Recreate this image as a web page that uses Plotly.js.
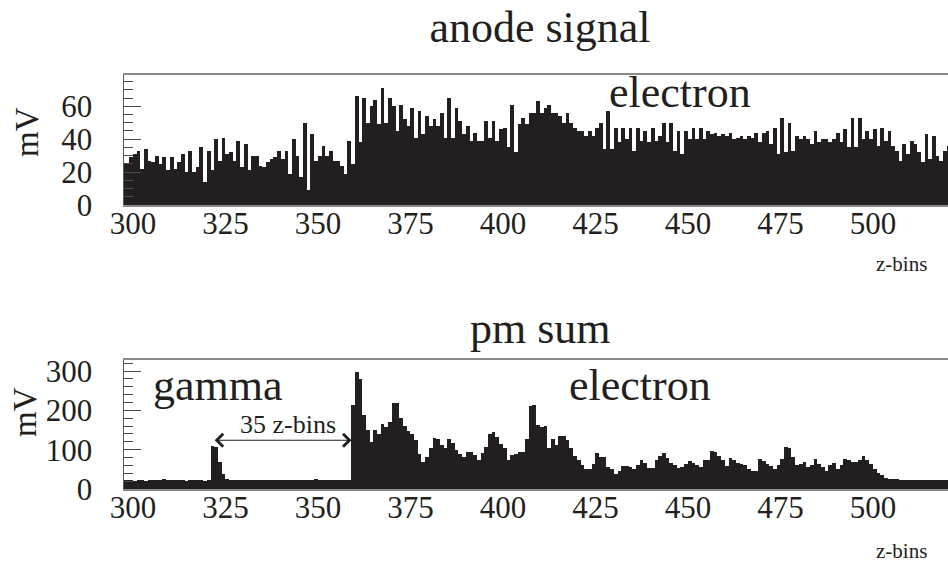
<!DOCTYPE html>
<html>
<head>
<meta charset="utf-8">
<script src="https://cdn.plot.ly/plotly-3.0.1.min.js"></script>
<style>
  html, body { margin: 0; padding: 0; background: #ffffff; }
  #chart { width: 948px; height: 562px; }
</style>
</head>
<body>
<div id="chart"></div>
<script>
// First z-bin shown in both histograms; every bin is one z-bin wide.
const firstBin = 297;

// Anode signal per z-bin (mV), bins 297 ... 520
const anodeMV = [
  25, 25, 29, 31, 33, 22, 34, 27, 26, 30,
  25, 29, 21, 29, 22, 26, 31, 20, 33, 20,
  23, 35, 14, 33, 21, 40, 27, 41, 31, 32,
  27, 39, 23, 37, 21, 30, 30, 24, 23, 26,
  28, 29, 33, 28, 33, 19, 40, 30, 17, 50,
   9, 43, 27, 30, 36, 30, 33, 27, 27, 24,
  19, 39, 25, 66, 38, 65, 50, 60, 64, 49,
  71, 50, 65, 60, 45, 61, 52, 48, 59, 41,
  57, 43, 54, 48, 52, 48, 56, 41, 65, 41,
  59, 51, 43, 48, 39, 44, 39, 39, 51, 41,
  51, 39, 46, 47, 35, 61, 32, 49, 53, 49,
  56, 56, 63, 56, 59, 61, 56, 56, 54, 50,
  56, 50, 47, 45, 45, 42, 45, 42, 47, 50,
  34, 57, 34, 47, 38, 47, 40, 47, 33, 47,
  39, 45, 38, 47, 39, 42, 50, 38, 50, 33,
  45, 31, 45, 40, 47, 40, 47, 40, 45, 43,
  44, 42, 43, 42, 44, 40, 41, 42, 40, 42,
  41, 44, 38, 44, 45, 37, 47, 31, 53, 32,
  50, 33, 42, 40, 42, 40, 37, 45, 38, 40,
  40, 38, 40, 44, 38, 46, 35, 53, 35, 53,
  40, 45, 40, 46, 36, 47, 39, 45, 36, 33,
  27, 37, 31, 39, 37, 32, 26, 43, 28, 42,
  30, 27, 33, 36
];

// Photomultiplier sum per z-bin (mV), bins 297 ... 520
const pmSumMV = [
   22,  22,  22,  21,  22,  22,  21,  22,  22,  22,
   23,  25,  24,  22,  22,  22,  22,  21,  22,  22,
   22,  22,  21,  22, 110, 106,  69,  37,  25,  22,
   22,  23,  22,  22,  22,  22,  23,  23,  22,  22,
   22,  22,  22,  22,  22,  22,  22,  22,  22,  22,
   22,  23,  26,  22,  22,  22,  22,  22,  22,  22,
   23,  24, 214, 297, 280, 188, 150, 120, 150, 141,
  165, 157, 170, 218, 218, 180, 160, 147, 141, 124,
   90,  69,  82, 103, 129, 126, 112, 103, 126, 116,
  100,  90,  82,  94,  94,  86,  73,  92, 107, 141,
  146, 131, 114, 103,  75,  86,  90,  94,  94, 126,
  212, 214, 163, 157, 160, 103, 126, 112, 134, 134,
  124, 103,  83,  73,  60,  51,  50,  64,  92,  82,
   82,  56,  51,  37,  47,  58,  58,  56,  51,  60,
   75,  66,  54,  54,  73,  85,  92,  80,  66,  60,
   53,  55,  64,  71,  66,  60,  56,  75,  75,  97,
   94,  83,  73,  58,  80,  73,  66,  64,  60,  51,
   46,  46,  77,  71,  64,  58,  51,  60,  77, 106,
  103,  82,  60,  63,  69,  56,  60,  77,  64,  56,
   47,  60,  66,  51,  60,  77,  75,  69,  69,  73,
   83,  75,  64,  51,  41,  35,  29,  26,  26,  25,
   24,  24,  23,  22,  22,  22,  22,  22,  22,  22,
   22,  22,  22,  22
];

// Tick labels
const zTicks = [300, 325, 350, 375, 400, 425, 450, 475, 500];
const anodeTicks = [0, 20, 40, 60];
const pmTicks = [0, 100, 200, 300];

// Bin lower edges
const zBins = anodeMV.map((_, i) => firstBin + i);

const INK = '#231f20';
const SERIF = 'Liberation Serif, Times New Roman, serif';
const TICK_SIZE = 31;
const BIG_SIZE = 44;

const barStyle = {
  type: 'bar',
  x: zBins,
  offset: 0,
  width: 1,
  marker: { color: INK, line: { width: 0 } },
  hoverinfo: 'skip',
  showlegend: false
};

const traces = [
  Object.assign({}, barStyle, { y: anodeMV, xaxis: 'x', yaxis: 'y', name: 'anode signal' }),
  Object.assign({}, barStyle, { y: pmSumMV, xaxis: 'x2', yaxis: 'y2', name: 'pm sum' })
];

function zAxis(anchor) {
  return {
    anchor: anchor,
    domain: [0, 1],
    range: [297.6, 520.3],
    tickmode: 'array',
    tickvals: zTicks,
    ticktext: zTicks.map(String),
    ticks: '',
    ticklen: 0,
    showgrid: false,
    zeroline: false,
    showline: true,
    mirror: true,
    linecolor: '#8a8a8a',
    linewidth: 2,
    tickfont: { family: SERIF, size: TICK_SIZE, color: INK },
    ticklabelstandoff: -10
  };
}

function mvAxis(anchor, domain, range, ticks, minorStep) {
  return {
    anchor: anchor,
    domain: domain,
    range: range,
    tickmode: 'array',
    tickvals: ticks,
    ticktext: ticks.map(String),
    ticks: 'inside',
    ticklen: 17,
    tickwidth: 1,
    tickcolor: '#4a4a4a',
    minor: { dtick: minorStep, ticks: 'inside', ticklen: 9, tickwidth: 1, tickcolor: '#4a4a4a', showgrid: false },
    showgrid: false,
    zeroline: false,
    showline: true,
    linecolor: '#5a5a5a',
    linewidth: 1.5,
    tickfont: { family: SERIF, size: TICK_SIZE, color: INK },
    ticklabelstandoff: 24
  };
}

function label(text, xPx, yPx, size, extra) {
  return Object.assign({
    text: text, xref: 'paper', yref: 'paper',
    x: (xPx - 124) / 824, y: 1 - yPx / 562,
    xanchor: 'center', yanchor: 'middle', showarrow: false,
    font: { family: SERIF, size: size, color: INK }
  }, extra || {});
}

const layout = {
  width: 948,
  height: 562,
  margin: { l: 124, r: 0, t: 0, b: 0 },
  paper_bgcolor: '#ffffff',
  plot_bgcolor: '#ffffff',
  bargap: 0,
  showlegend: false,
  font: { family: SERIF, color: INK },
  title: {
    text: 'anode signal',
    font: { family: SERIF, size: BIG_SIZE, color: INK },
    x: 540 / 948, xanchor: 'center', xref: 'container',
    y: 1 - 27 / 562, yanchor: 'middle', yref: 'container'
  },
  xaxis: zAxis('y'),
  yaxis: mvAxis('x', [1 - 205 / 562, 1 - 75 / 562], [0, 79], anodeTicks, 5),
  xaxis2: zAxis('y2'),
  yaxis2: mvAxis('x2', [1 - 489 / 562, 1 - 360 / 562], [0, 328], pmTicks, 20),
  annotations: [
    label('pm sum', 540, 329, BIG_SIZE),
    label('electron', 680, 92, BIG_SIZE),
    label('gamma', 218, 385, BIG_SIZE),
    label('electron', 640, 385, BIG_SIZE),
    label('mV', 27, 132, 33, { textangle: -90 }),
    label('mV', 25, 412, 33, { textangle: -90 }),
    label('35 z-bins', 288, 424, 26),
    // double-headed arrow spanning the gamma-to-electron separation
    { text: '', xref: 'x2', yref: 'y2', axref: 'x2', ayref: 'y2',
      x: 359.1, y: 124, ax: 321.7, ay: 124,
      showarrow: true, arrowside: 'end+start',
      arrowhead: 4, startarrowhead: 4, arrowsize: 2.1, startarrowsize: 2.1,
      arrowwidth: 1.2, arrowcolor: INK, standoff: 0, startstandoff: 0 },
    label('z-bins', 901, 264, 21),
    label('z-bins', 901, 551, 21)
  ]
};

Plotly.newPlot('chart', traces, layout, { staticPlot: true, displayModeBar: false });
</script>
</body>
</html>
